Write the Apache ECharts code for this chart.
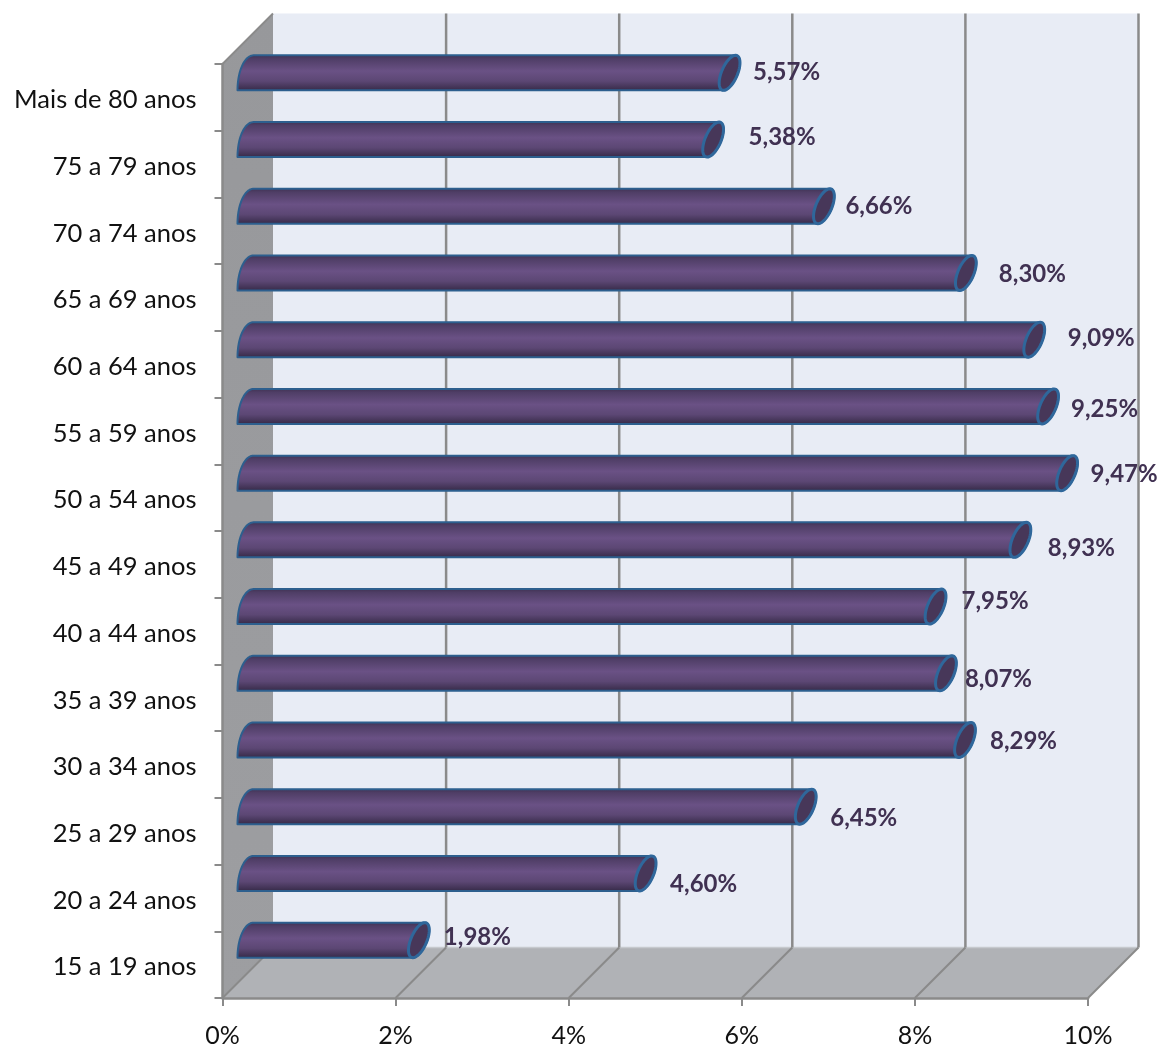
<!DOCTYPE html>
<html>
<head>
<meta charset="utf-8">
<style>html,body{margin:0;padding:0;background:#fff}#c{width:1159px;height:1045px}</style>
<script src="https://cdn.jsdelivr.net/npm/echarts@6/dist/echarts.min.js"></script>
</head>
<body>
<div id="c"></div>
<script>
const categories = ['15 a 19 anos','20 a 24 anos','25 a 29 anos','30 a 34 anos','35 a 39 anos','40 a 44 anos','45 a 49 anos','50 a 54 anos','55 a 59 anos','60 a 64 anos','65 a 69 anos','70 a 74 anos','75 a 79 anos','Mais de 80 anos'];
const shares = [1.98,4.60,6.45,8.29,8.07,7.95,8.93,9.47,9.25,9.09,8.30,6.66,5.38,5.57];
const xTicks = [0,2,4,6,8,10];
// label nudges relative to the bar end (hand placed in the original)
const labelDx = [58.5,58,58,58.5,52.5,59.5,61,57,56.5,67,66.5,55,69,57];
const labelDy = [-3,11,12,1,6,-5,8,1,3,-1,1,0,-2,-1];

const DEPTH = 50.5, BX = 25, BY = 24.5, RA = 8.5, RS = 6, RB = 17.5;
const FONT = 'Lato, Carlito, sans-serif';
const grey = '#8a8a8a';

function ell(cx, cy, from, to, n) {
  const pts = [];
  for (let i = 0; i <= n; i++) {
    const t = from + (to - from) * i / n;
    pts.push([cx + RA * Math.cos(t) - RS * Math.sin(t), cy + RB * Math.sin(t)]);
  }
  return pts;
}

function leftCap(x0, cy, n) {
  const pts = [];
  for (let i = 0; i <= n; i++) {
    const t = (Math.PI / 2) * i / n;
    pts.push([x0 + RS - 16 * Math.cos(t), cy + RB - 2 * RB * Math.sin(t)]);
  }
  return pts;
}

function renderWalls(params, api) {
  const r = params.coordSys, L = r.x, T = r.y, R = r.x + r.width, B = r.y + r.height, D = DEPTH;
  const poly = (points, fill) => ({type:'polygon', shape:{points}, style:{fill, stroke:null}, silent:true});
  const line = (x1,y1,x2,y2,stroke,w) => ({type:'line', shape:{x1,y1,x2,y2}, style:{stroke, lineWidth:w}, silent:true});
  const children = [
    poly([[L+D,T-D],[R+D,T-D],[R+D,B-D],[L+D,B-D]], '#e8ecf5'),
    poly([[L,T],[L+D,T-D],[L+D,B-D],[L,B]], new echarts.graphic.LinearGradient(0,0,0,1,[{offset:0,color:'#97989b'},{offset:1,color:'#9d9ea1'}])),
    poly([[L,B],[L+D,B-D],[R+D,B-D],[R,B]], '#b0b2b6'),
    line(L+D,B-D,R+D,B-D,'#c6c9ce',1.5),
    line(L,T,L+D,T-D,grey,2)
  ];
  xTicks.forEach(v => {
    const x = api.coord([v, 0])[0];
    children.push(line(x,B,x+D,B-D,grey,2));
    if (v > 0) children.push(line(x+D,B-D,x+D,T-D,grey,2.5));
  });
  return {type:'group', children};
}

function renderBar(params, api) {
  const i = params.dataIndex, v = api.value(0);
  const end = api.coord([v, i]), start = api.coord([0, i]);
  const cy = end[1] - BY, x0 = start[0] + BX, x1 = end[0] + BX;
  const body = ell(x1, cy, -Math.PI/2, Math.PI/2, 24).concat(leftCap(x0, cy, 24));
  const cap = ell(x1, cy, 0, Math.PI*2, 48);
  return {type:'group', children:[
    {type:'polygon', shape:{points:body}, style:{
      fill:new echarts.graphic.LinearGradient(0,0,0,1,[
        {offset:0,color:'#3d3050'},{offset:0.12,color:'#4f3e66'},{offset:0.45,color:'#6a5185'},
        {offset:0.72,color:'#5c4774'},{offset:0.92,color:'#3f3152'},{offset:1,color:'#2f2640'}]),
      stroke:'#2d5f8e', lineWidth:2, lineJoin:'round'}},
    {type:'polygon', shape:{points:cap}, style:{fill:'#473759', stroke:'#2f679b', lineWidth:3}},
    {type:'text', x:x1 + labelDx[i], y:cy + labelDy[i], style:{
      text:v.toFixed(2).replace('.',',') + '%', fill:'#403152', font:'bold 24px ' + FONT,
      align:'center', verticalAlign:'middle'}}
  ]};
}

const chart = echarts.init(document.getElementById('c'), null, {renderer:'canvas'});
chart.setOption({
  animation:false,
  backgroundColor:'#fff',
  grid:{left:222.5, right:71, top:64, bottom:47, containLabel:false, outerBoundsMode:'none'},
  xAxis:{type:'value', min:0, max:10, interval:2, z:4,
    axisLine:{show:true, lineStyle:{color:grey, width:2.5}},
    axisTick:{show:true, length:8, lineStyle:{color:grey, width:2}},
    splitLine:{show:false},
    axisLabel:{formatter:'{value}%', color:'#111', fontFamily:FONT, fontSize:25, margin:25}},
  yAxis:{type:'category', data:categories, z:4,
    axisLine:{show:true, lineStyle:{color:grey, width:2.5}},
    axisTick:{show:true, length:8, lineStyle:{color:grey, width:2}},
    splitLine:{show:false},
    axisLabel:{color:'#111', fontFamily:FONT, fontSize:25.5, margin:26, interval:0, verticalAlign:'top', lineHeight:5}},
  series:[
    {type:'custom', z:1, silent:true, coordinateSystem:'cartesian2d', clip:false, data:[[0,0]], renderItem:renderWalls},
    {type:'custom', z:5, silent:true, coordinateSystem:'cartesian2d', clip:false, encode:{x:0,y:1},
     data:shares.map((v,i)=>[v,i]), renderItem:renderBar}
  ]
});
</script>
</body>
</html>
